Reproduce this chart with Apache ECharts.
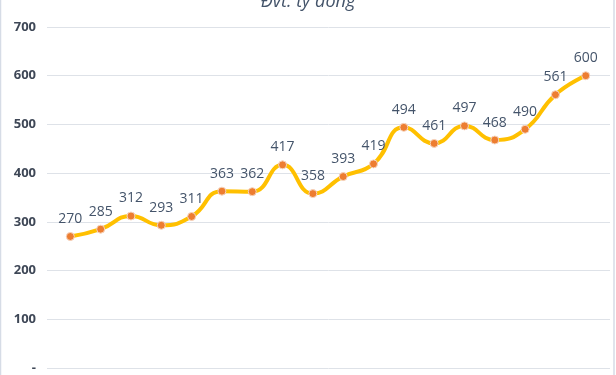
<!DOCTYPE html>
<html><head><meta charset="utf-8">
<script src="https://cdn.jsdelivr.net/npm/echarts@6/dist/echarts.min.js"></script>
<style>html,body{margin:0;padding:0;background:#fff}#c{width:616px;height:375px}</style>
</head><body><div id="c"></div>
<script>
const periods = [1,2,3,4,5,6,7,8,9,10,11,12,13,14,15,16,17,18];
const values = [270,285,312,293,311,363,362,417,358,393,419,494,461,497,468,490,561,600];
const yTicks = [0,100,200,300,400,500,600,700];
const unitTitle = 'Đvt: tỷ đồng';

const chart = echarts.init(document.getElementById('c'), null, {renderer:'canvas'});
chart.setOption({
  animation:false,
  backgroundColor:'#fff',
  title:{text:unitTitle,left:'center',top:-12,textStyle:{fontFamily:'"Open Sans", "DejaVu Sans", sans-serif',fontStyle:'italic',fontWeight:'normal',fontSize:18,color:'#44546A'}},
  graphic:[{type:'rect',shape:{x:0.5,y:-5,width:613.5,height:390},style:{fill:'none',stroke:'#D6DCE6',lineWidth:1.5},silent:true}],
  grid:{left:47,right:6,top:27,bottom:7},
  xAxis:{type:'value',min:-0.77,max:17.8,show:false,splitLine:{show:false}},
  yAxis:{type:'value',min:0,max:700,interval:100,
    axisLine:{show:false},axisTick:{show:false},
    splitLine:{lineStyle:{color:'#DEE2E8',width:1}},
    axisLabel:{margin:11,fontFamily:'"Open Sans", "DejaVu Sans", sans-serif',fontWeight:'bold',fontSize:13,color:'#3E4756',
      formatter:v=>v===0?'-':String(v)}},
  series:[{type:'line',smooth:0.5,
    data:values.map((v,i)=>[i,v]),
    lineStyle:{color:'#FFC000',width:4},
    itemStyle:{color:'#ED7D31',borderColor:'#F6D5C0',borderWidth:1},
    symbol:'circle',symbolSize:8,
    label:{show:true,position:'top',distance:6,fontFamily:'"Open Sans", "DejaVu Sans", sans-serif',fontSize:14,color:'#44546A',
      formatter:p=>p.value[1]}
  }]
});
</script></body></html>
